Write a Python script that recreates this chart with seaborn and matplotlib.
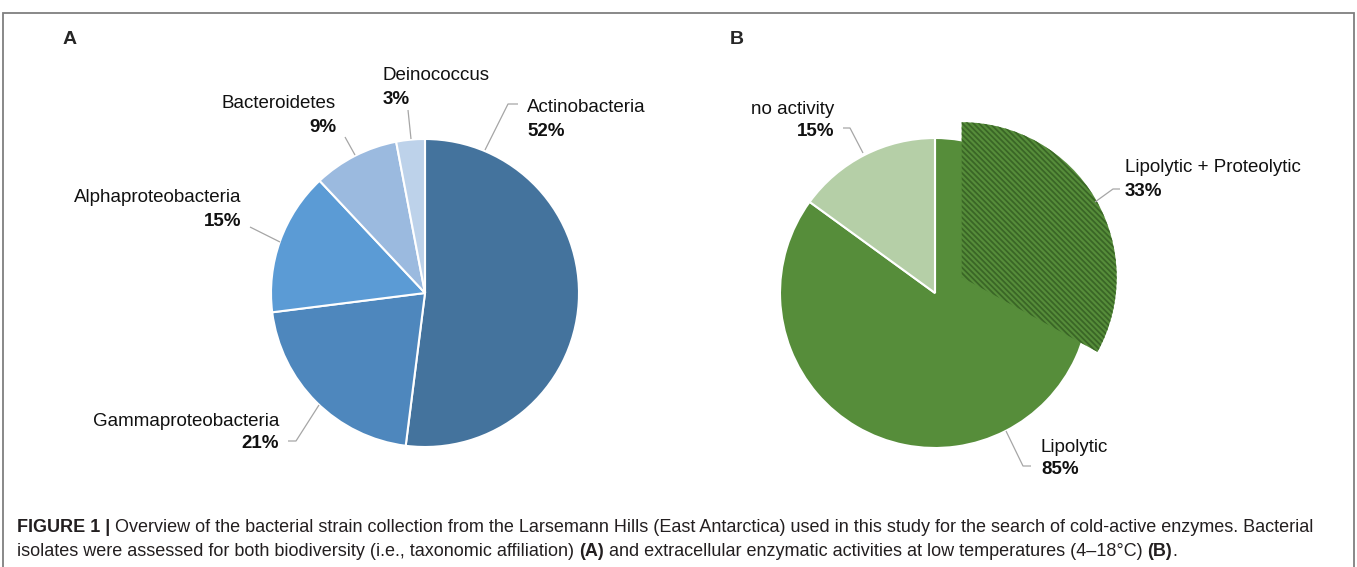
import seaborn as sns
import matplotlib.pyplot as plt
from matplotlib import font_manager
from matplotlib.font_manager import FontProperties
from matplotlib.patches import Rectangle

# taxonomic affiliation (panel A)
taxa = ["Actinobacteria", "Gammaproteobacteria", "Alphaproteobacteria", "Bacteroidetes", "Deinococcus"]
taxa_pct = [52, 21, 15, 9, 3]
taxa_colors = ["#44739d", "#4e87bd", "#5b9bd5", "#9bbadf", "#bdd2ea"]

# enzymatic activity (panel B)
activity = ["Lipolytic", "no activity"]
activity_pct = [85, 15]
activity_colors = ["#568d3a", "#b5cfa7"]
sub_label = "Lipolytic + Proteolytic"
sub_pct = 33
hatch_color = "#3a6626"

sns.set_theme(style="white")
plt.rcParams["font.family"] = ["Liberation Sans", "DejaVu Sans"]
plt.rcParams["hatch.linewidth"] = 1.3

names = {f.name for f in font_manager.fontManager.ttflist}
cap_font = "Liberation Sans Narrow" if "Liberation Sans Narrow" in names else "Liberation Sans"

W, H = 1357, 567
fig = plt.figure(figsize=(W / 100, H / 100), dpi=100)
fig.patch.set_facecolor("white")

LBL = 13.5
LEAD = "#a6a6a6"


def pie_axes(cx, cy, r, hw, hh):
    ax = fig.add_axes([(cx - hw) / W, 1 - (cy + hh) / H, 2 * hw / W, 2 * hh / H])
    return ax, (cx, cy, r, hw, hh)


def finish(ax, g):
    cx, cy, r, hw, hh = g
    ax.set_xlim(-hw / r, hw / r)
    ax.set_ylim(-hh / r, hh / r)
    ax.axis("off")


def P(g, px, py):
    cx, cy, r, hw, hh = g
    return (px - cx) / r, (cy - py) / r


def label(ax, g, px, ha, y1, y2, name, pct):
    x, y = P(g, px, y1)
    ax.text(x, y, name, ha=ha, va="center", fontsize=LBL, color="#111111")
    x, y = P(g, px, y2)
    ax.text(x, y, f"{pct}%", ha=ha, va="center", fontsize=LBL, fontweight="bold", color="#111111")


def leader(ax, g, pts):
    xy = [P(g, a, b) for a, b in pts]
    ax.plot([p[0] for p in xy], [p[1] for p in xy], color=LEAD, lw=0.9, solid_capstyle="butt")


# ---- panel A ----
axA, gA = pie_axes(425, 293, 154, 400, 260)
axA.pie(taxa_pct, colors=taxa_colors, startangle=90, counterclock=False,
        wedgeprops=dict(edgecolor="white", linewidth=1.5))
finish(axA, gA)

label(axA, gA, 527, "left", 108, 131, taxa[0], taxa_pct[0])
label(axA, gA, 279, "right", 421, 443, taxa[1], taxa_pct[1])
label(axA, gA, 241, "right", 198, 222, taxa[2], taxa_pct[2])
label(axA, gA, 336, "right", 103, 127, taxa[3], taxa_pct[3])
label(axA, gA, 383, "left", 76, 99, taxa[4], taxa_pct[4])

leader(axA, gA, [(485, 150), (508, 104), (518, 104)])
leader(axA, gA, [(319, 405), (296, 441), (288, 441)])
leader(axA, gA, [(280, 242), (250, 227)])
leader(axA, gA, [(355, 155), (345, 137)])
leader(axA, gA, [(411, 139), (408, 110)])

# ---- panel B ----
axB, gB = pie_axes(935, 293, 155, 400, 260)
axB.pie(activity_pct, colors=activity_colors, startangle=90, counterclock=False,
        wedgeprops=dict(edgecolor="white", linewidth=1.5))
sub, _ = axB.pie([sub_pct, 100 - sub_pct], explode=[0.2, 0], startangle=90,
                 counterclock=False, colors=[activity_colors[0], "none"])
sub[0].set_hatch("\\" * 6)
sub[0].set_edgecolor(hatch_color)
sub[0].set_linewidth(0)
sub[1].set_visible(False)
finish(axB, gB)

label(axB, gB, 1041, "left", 447, 470, activity[0], activity_pct[0])
label(axB, gB, 834, "right", 109, 132, activity[1], activity_pct[1])
label(axB, gB, 1125, "left", 168, 192, sub_label, sub_pct)

leader(axB, gB, [(1006, 431), (1023, 466), (1031, 466)])
leader(axB, gB, [(863, 153), (850, 128), (843, 128)])
leader(axB, gB, [(1095, 202), (1113, 189), (1120, 189)])

# panel letters
fig.text(63 / W, 1 - 40 / H, "A", fontsize=14, fontweight="bold", family=cap_font, va="center")
fig.text(730 / W, 1 - 40 / H, "B", fontsize=14, fontweight="bold", family=cap_font, va="center")

# frame
fig.add_artist(Rectangle((3 / W, -0.1), (1354 - 3) / W, 1.1 - 12.5 / H, transform=fig.transFigure,
                         fill=False, edgecolor="#7f7f7f", linewidth=1.3))

# caption
rend = fig.canvas.get_renderer()


def seg_width(s, size, bold):
    prop = FontProperties(family=cap_font, size=size, weight="bold" if bold else "normal")
    w1 = rend.get_text_width_height_descent(s + "|", prop, ismath=False)[0]
    w0 = rend.get_text_width_height_descent("|", prop, ismath=False)[0]
    return (w1 - w0)


line1 = [("FIGURE 1 | ", True),
         ("Overview of the bacterial strain collection from the Larsemann Hills (East Antarctica) used in "
          "this study for the search of cold-active enzymes. Bacterial", False)]
line2 = [("isolates were assessed for both biodiversity (i.e., taxonomic affiliation) ", False),
         ("(A)", True),
         (" and extracellular enzymatic activities at low temperatures (4–18°C) ", False),
         ("(B)", True), (".", False)]

base = 10
tot = sum(seg_width(s, base, b) for s, b in line1)
cap_size = base * 1305 / tot


def rich_line(x_px, y_px, parts):
    x = x_px
    for s, b in parts:
        fig.text(x / W, 1 - y_px / H, s, fontsize=cap_size, fontweight="bold" if b else "normal",
                 family=cap_font, va="center", ha="left", color="#231f20")
        x += seg_width(s, cap_size, b)


rich_line(17, 527, line1)
rich_line(17, 551, line2)

fig.savefig("out.png", dpi=100, facecolor="white")
